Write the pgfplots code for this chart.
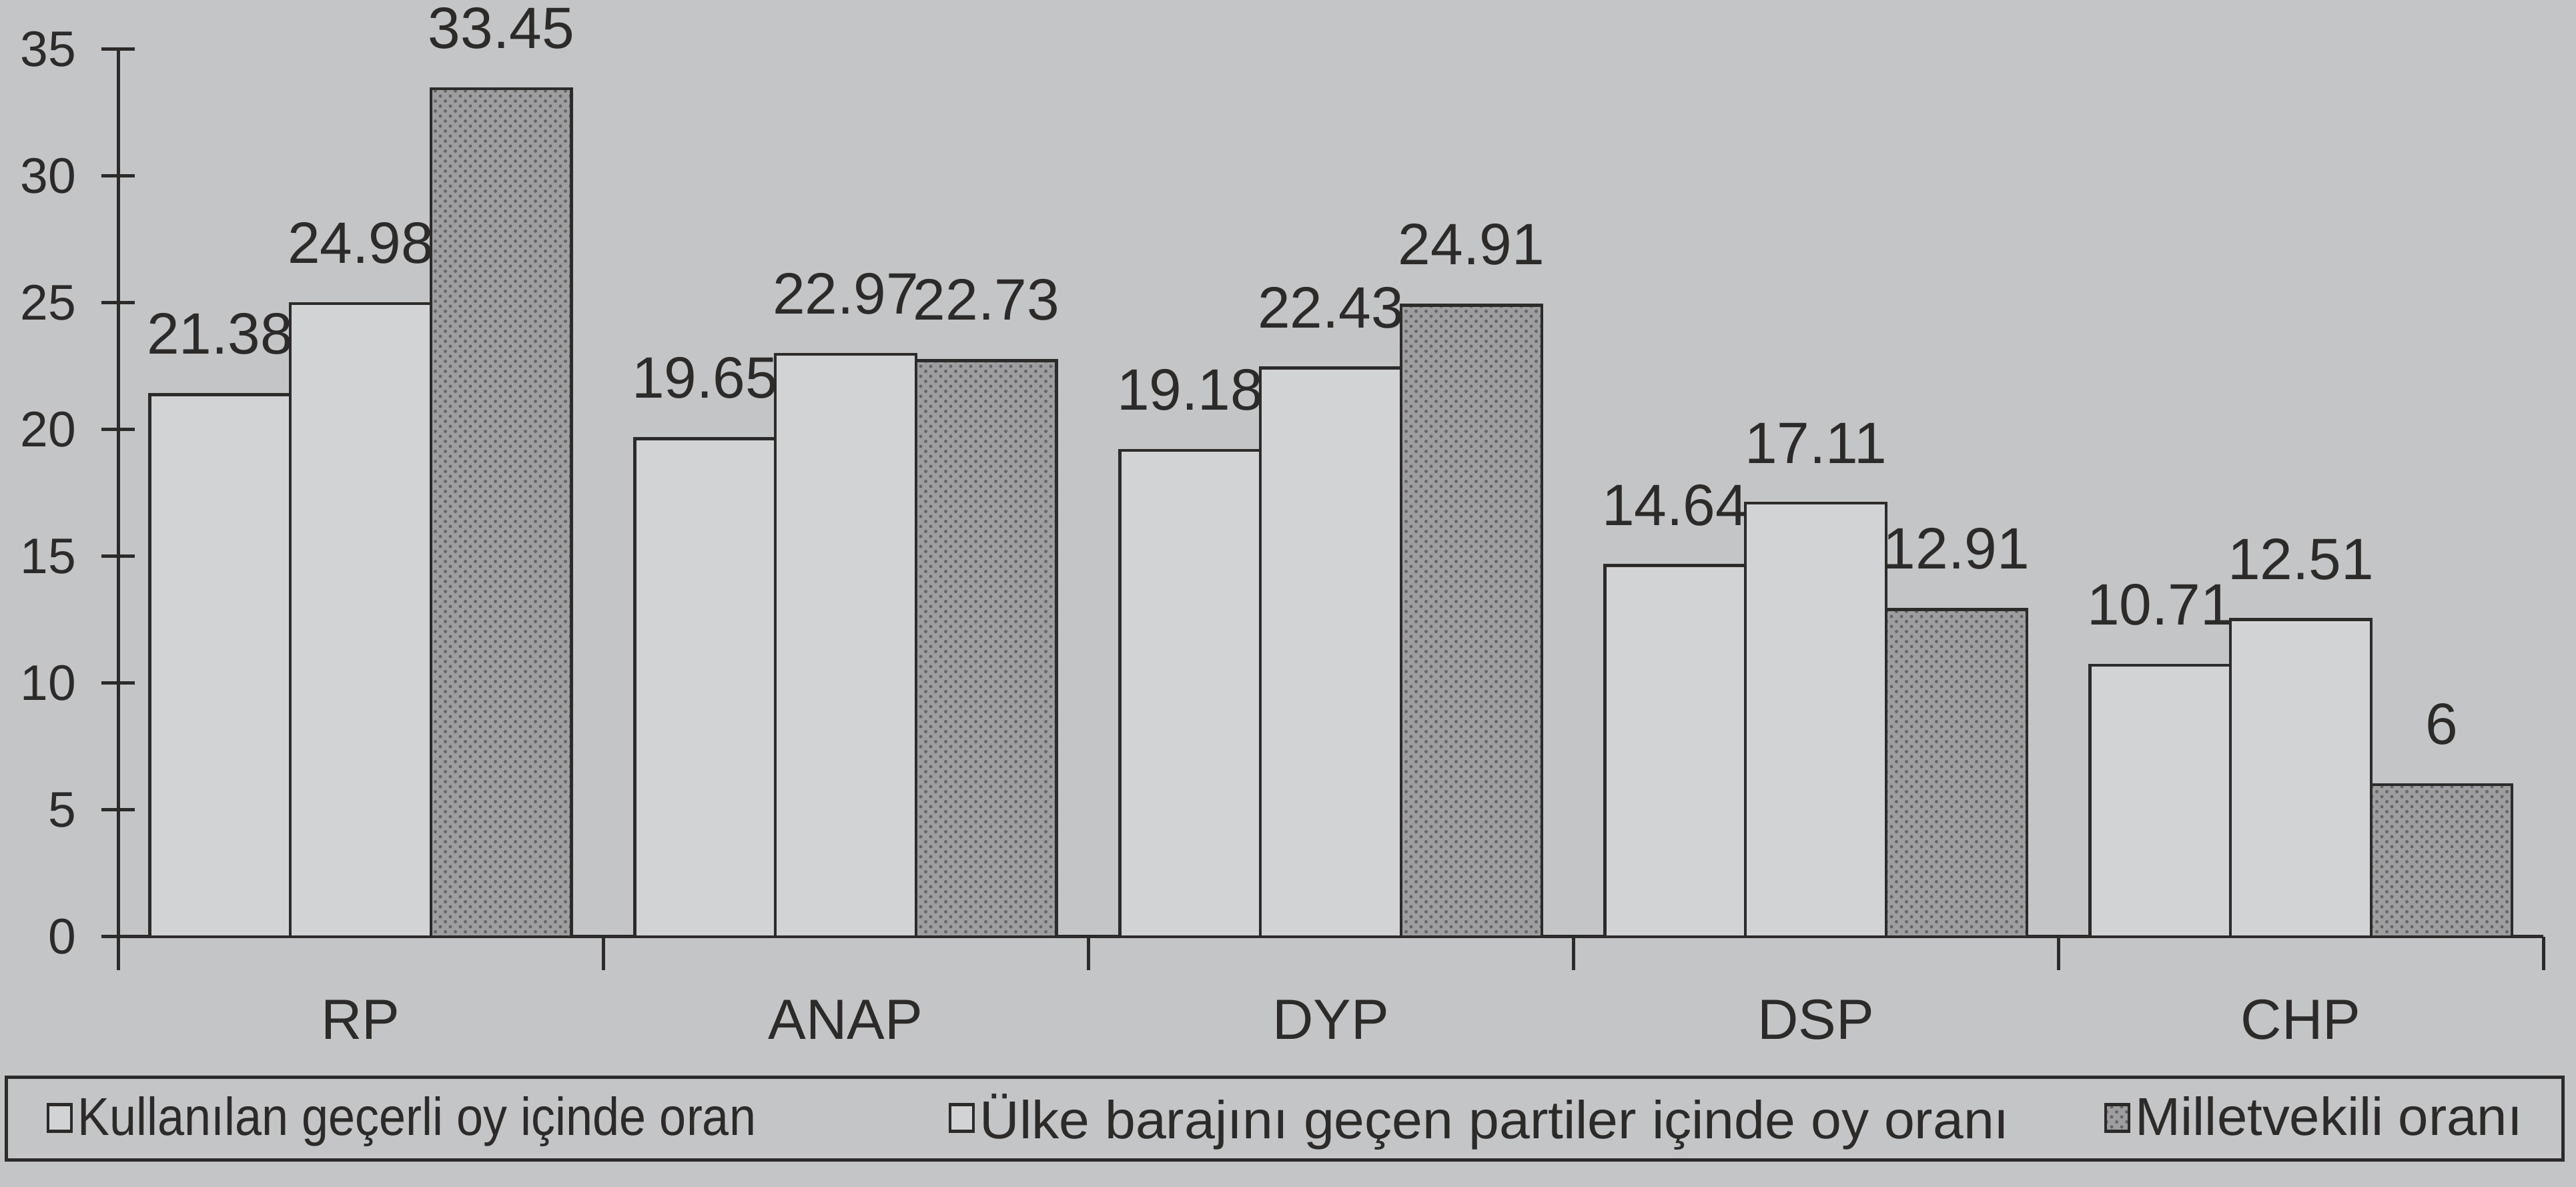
\documentclass[border=0pt]{standalone}
\usepackage{fontspec}
\setmainfont{Liberation Sans}
\usepackage{pgfplots}
\usepackage{pgfplotstable}
\pgfplotsset{compat=1.18}
\usetikzlibrary{patterns}
\definecolor{paper}{RGB}{196,197,199}
\definecolor{barw}{RGB}{210,211,213}
\definecolor{bard}{RGB}{158,158,160}
\definecolor{ink}{RGB}{45,42,42}

\pgfplotstableread{
x a b c
0 21.38 24.98 33.45
1 19.65 22.97 22.73
2 19.18 22.43 24.91
3 14.64 17.11 12.91
4 10.71 12.51 6
}\data

\begin{document}
\begin{tikzpicture}
\fill[paper] (-35.4pt,-75pt) rectangle (736.8pt,280.8pt);
\path[use as bounding box] (-35.4pt,-75pt) rectangle (736.8pt,280.8pt);
\begin{axis}[
  at={(0pt,0pt)}, anchor=south west,
  scale only axis, width=727pt, height=266pt,
  xmin=-0.5, xmax=4.5, ymin=0, ymax=35,
  clip=false,
  axis x line=bottom, axis y line=left,
  axis line style={-, line width=1pt, draw=ink},
  ytick={0,5,...,35},
  xtick={0,...,4}, xticklabels={RP,ANAP,DYP,DSP,CHP},
  minor xtick={-0.5,0.5,...,4.5},
  major x tick style={draw=none},
  minor x tick style={draw=ink, line width=1pt},
  major y tick style={draw=ink, line width=1pt},
  tick align=center, major tick length=10pt, minor tick length=10pt,
  /pgf/number format/assume math mode=true,
  yticklabel style={font=\fontsize{15}{18}\selectfont, text=ink, anchor=east, inner sep=0pt, xshift=-7.4pt},
  xticklabel style={font=\fontsize{17}{20}\selectfont, text=ink, anchor=base, inner sep=0pt, yshift=-20.8pt},
  ybar, bar width=0.29,
  nodes near coords,
  every node near coord/.append style={font=\fontsize{17.5}{20}\selectfont, text=ink, anchor=south, inner sep=0pt, yshift=11.5pt},
  legend columns=3,
  legend image code/.code={\draw[#1] (0pt,-3.8pt) rectangle (7pt,4.2pt);},
  legend style={at={(0.481,-0.205)}, anchor=center, draw=ink, line width=1pt, fill=paper,
    font=\fontsize{16}{19}\selectfont, text=ink,
    inner xsep=12pt, inner ysep=5pt,
    nodes={inner sep=0pt},
    /tikz/every odd column/.style={column sep=1.5pt},
    /tikz/every even column/.style={column sep=0pt}},
]
\addplot[draw=ink, line width=0.9pt, fill=barw, bar shift=-0.29] table[x=x, y=a] {\data};
\addlegendentry{\makebox[261pt][l]{\scalebox{0.9}[1]{Kullanılan geçerli oy içinde oran}}}
\addplot[draw=ink, line width=0.9pt, fill=barw, bar shift=0] table[x=x, y=b] {\data};
\addlegendentry{\makebox[337pt][l]{\scalebox{1.03}[1]{Ülke barajını geçen partiler içinde oy oranı}}}
\addplot[draw=ink, line width=0.9pt, fill=bard, postaction={pattern=crosshatch dots, pattern color=black!60}, bar shift=0.29] table[x=x, y=c] {\data};
\addlegendentry{\scalebox{1.02}[1]{Milletvekili oranı}}
\end{axis}
\end{tikzpicture}
\end{document}
